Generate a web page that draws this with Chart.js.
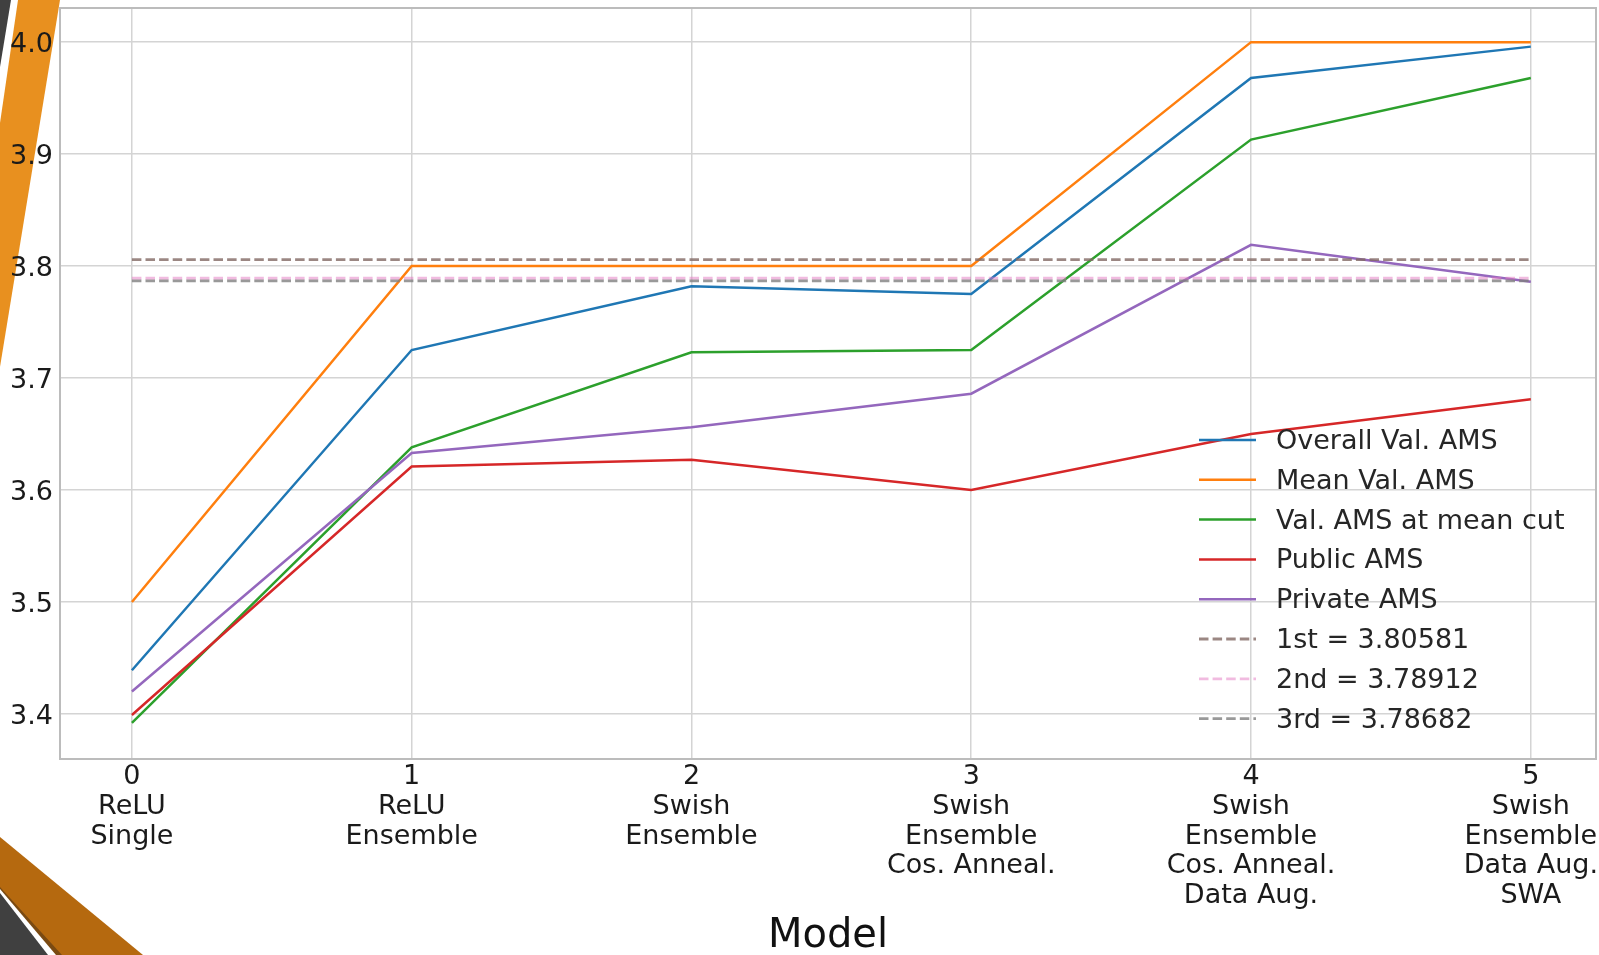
<!DOCTYPE html>
<html>
<head>
<meta charset="utf-8">
<title>AMS by model</title>
<script src="https://cdn.jsdelivr.net/npm/chart.js@4.4.1/dist/chart.umd.min.js"></script>
<style>
    body { margin: 0; background: #fff; }
    #wrap { position: relative; width: 1599px; height: 955px; overflow: hidden; }
    #deco, #chart { position: absolute; left: 0; top: 0; }
</style>
</head>
<body>
<div id="wrap">
    <!-- slide decoration behind the chart -->
    <svg id="deco" width="1599" height="955">
        <polygon points="0,0 11,0 0,67" fill="#404040"/>
        <polygon points="18,0 60,0 0,367 0,123" fill="#e8901f"/>
        <polygon points="0,837 143,955 0,955" fill="#b5690f"/>
        <polygon points="0,887 62,955 0,955" fill="#7a4a12"/>
        <polygon points="0,889 56,955 0,955" fill="#ffffff"/>
        <polygon points="0,893 48,955 0,955" fill="#404040"/>
    </svg>
    <canvas id="chart" width="1599" height="955"></canvas>
</div>
<script>
// x positions and the model names under each
var xTicks = [0, 1, 2, 3, 4, 5];
var modelNames = [
    ['ReLU', 'Single'],
    ['ReLU', 'Ensemble'],
    ['Swish', 'Ensemble'],
    ['Swish', 'Ensemble', 'Cos. Anneal.'],
    ['Swish', 'Ensemble', 'Cos. Anneal.', 'Data Aug.'],
    ['Swish', 'Ensemble', 'Data Aug.', 'SWA']
];
var yTicks = [3.4, 3.5, 3.6, 3.7, 3.8, 3.9, 4.0];

// series values
var overallVal = [3.439, 3.725, 3.782, 3.775, 3.968, 3.996];
var meanVal = [3.500, 3.800, 3.800, 3.800, 4.000, 4.000];
var meanCutVal = [3.392, 3.638, 3.723, 3.725, 3.913, 3.968];
var publicAms = [3.399, 3.621, 3.627, 3.600, 3.650, 3.681];
var privateAms = [3.420, 3.633, 3.656, 3.686, 3.819, 3.786];

// leaderboard reference scores
var boardNames = ['1st', '2nd', '3rd'];
var boardScores = [3.80581, 3.78912, 3.78682];

Chart.defaults.font.family = '"DejaVu Sans", Verdana, sans-serif';
Chart.defaults.color = '#262626';

var toPoints = function (values) {
    return values.map(function (v, i) {
        return {x: xTicks[i], y: v};
    });
};

var solid = function (label, values, color) {
    return {
        label: label,
        data: toPoints(values),
        borderColor: color,
        borderWidth: 2.5,
        pointRadius: 0,
        tension: 0,
        fill: false
    };
};

var datasets = [
    solid('Overall Val. AMS', overallVal, '#1f77b4'),
    solid('Mean Val. AMS', meanVal, '#ff7f0e'),
    solid('Val. AMS at mean cut', meanCutVal, '#2ca02c'),
    solid('Public AMS', publicAms, '#d62728'),
    solid('Private AMS', privateAms, '#9467bd')
];

var dashColors = ['rgba(130,105,100,0.8)', 'rgba(227,119,194,0.5)', 'rgba(127,127,127,0.8)'];
boardScores.forEach(function (score, i) {
    datasets.push({
        label: boardNames[i] + ' = ' + score.toFixed(5),
        data: [{x: xTicks[0], y: score}, {x: xTicks[xTicks.length - 1], y: score}],
        borderColor: dashColors[i],
        borderWidth: 2.8,
        borderDash: [9.5, 4.1],
        pointRadius: 0,
        fill: false
    });
});

// later series on top, like matplotlib
datasets.forEach(function (ds, i) {
    ds.order = datasets.length - i;
});

// plot frame
var framePlugin = {
    id: 'frame',
    beforeDatasetsDraw: function (chart) {
        var a = chart.chartArea;
        var ctx = chart.ctx;
        ctx.save();
        ctx.strokeStyle = '#bcbcbc';
        ctx.lineWidth = 2;
        ctx.strokeRect(a.left, a.top, a.right - a.left, a.bottom - a.top);
        ctx.restore();
    }
};

// legend inside the plot, no box
var legendPlugin = {
    id: 'insideLegend',
    afterDraw: function (chart, args, opts) {
        var ctx = chart.ctx;
        var a = chart.chartArea;
        var left = a.right - opts.fromRight;
        var top = a.bottom - opts.fromBottom;
        ctx.save();
        ctx.font = '27px "DejaVu Sans"';
        ctx.textBaseline = 'middle';
        ctx.fillStyle = '#262626';
        chart.data.datasets.forEach(function (ds, i) {
            var y = top + i * opts.rowHeight;
            ctx.beginPath();
            ctx.setLineDash(ds.borderDash || []);
            ctx.strokeStyle = ds.borderColor;
            ctx.lineWidth = ds.borderWidth;
            ctx.moveTo(left, y);
            ctx.lineTo(left + opts.handle, y);
            ctx.stroke();
            ctx.setLineDash([]);
            ctx.fillText(ds.label, left + opts.handle + opts.gap, y + 2);
        });
        ctx.restore();
    }
};

new Chart(document.getElementById('chart').getContext('2d'), {
    type: 'line',
    data: {datasets: datasets},
    plugins: [framePlugin, legendPlugin],
    options: {
        responsive: false,
        animation: false,
        layout: {padding: {top: 8, right: 3, left: 0, bottom: 0}},
        plugins: {
            legend: {display: false},
            tooltip: {enabled: false},
            insideLegend: {fromRight: 397, fromBottom: 319, rowHeight: 39.8, handle: 57, gap: 20}
        },
        scales: {
            x: {
                type: 'linear',
                min: -0.257,
                max: 5.233,
                border: {display: false},
                grid: {color: '#d4d4d4', lineWidth: 1.5, drawTicks: false},
                afterBuildTicks: function (scale) {
                    scale.ticks = xTicks.map(function (v) { return {value: v}; });
                },
                afterFit: function (scale) {
                    scale.height = 196;
                    scale.paddingLeft = 0;
                    scale.paddingRight = 0;
                },
                ticks: {
                    autoSkip: false,
                    maxRotation: 0,
                    padding: 3,
                    color: '#1a1a1a',
                    font: {size: 27, lineHeight: 1.104},
                    callback: function (value) {
                        var i = xTicks.indexOf(value);
                        return [String(value)].concat(modelNames[i]);
                    }
                },
                title: {
                    display: true,
                    text: 'Model',
                    color: '#111',
                    font: {size: 40, lineHeight: 0.9},
                    padding: {top: 0, bottom: 0}
                }
            },
            y: {
                type: 'linear',
                min: 3.3597,
                max: 4.0305,
                border: {display: false},
                grid: {color: '#d4d4d4', lineWidth: 1.5, drawTicks: false},
                afterBuildTicks: function (scale) {
                    scale.ticks = yTicks.map(function (v) { return {value: v}; });
                },
                afterFit: function (scale) {
                    scale.width = 60;
                    scale.paddingTop = 0;
                    scale.paddingBottom = 0;
                },
                ticks: {
                    padding: 7,
                    labelOffset: 3,
                    color: '#1a1a1a',
                    font: {size: 27},
                    callback: function (value) {
                        return value.toFixed(1);
                    }
                }
            }
        }
    }
});
</script>
</body>
</html>
